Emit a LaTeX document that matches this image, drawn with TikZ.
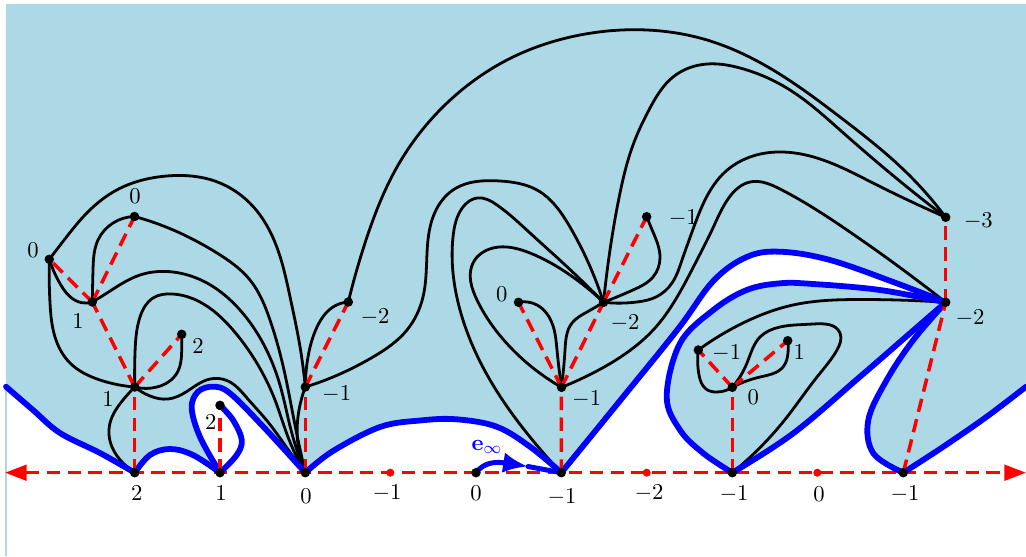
\documentclass[tikz,border=0pt]{standalone}
\usetikzlibrary{arrows.meta,hobby}
\definecolor{lb}{RGB}{173,216,230}
\begin{document}
\begin{tikzpicture}[x=0.017cm,y=-0.017cm,
  font=\fontsize{11pt}{13pt}\selectfont,
  dot/.style={circle,fill=black,inner sep=0pt,minimum size=4.6pt},
  rdot/.style={circle,fill=red,inner sep=0pt,minimum size=3.9pt},
  lbl/.style={inner sep=0pt,anchor=center},
  blk/.style={line width=1.35pt,line cap=round,line join=round,use Hobby shortcut},
  bl/.style={blue,line width=2.8pt,line cap=round,line join=round},
  rd/.style={red,line width=1.7pt,dash pattern=on 6.5pt off 3.6pt},
  sm/.style={smooth,tension=0.6}]
\useasboundingbox (0,0) rectangle (1026,556);
% positions
\coordinate (ax2) at (134.7,472.7);
\coordinate (ax1) at (220,472.7);
\coordinate (ax0) at (305.3,472.7);
\coordinate (rA) at (390.3,472.7);
\coordinate (ax0b) at (476,472.7);
\coordinate (axm1b) at (561.3,472.7);
\coordinate (rB) at (646.7,472.7);
\coordinate (axm1c) at (732.3,472.7);
\coordinate (rC) at (817.3,472.7);
\coordinate (axm1d) at (903.3,472.7);
\coordinate (Lend) at (5,472.7);
\coordinate (Rend) at (1026,472.7);
\coordinate (etip) at (528,466.5);
\coordinate (A0) at (49.3,259.3);
\coordinate (B0) at (134.5,216.5);
\coordinate (C1) at (92.3,302);
\coordinate (D2) at (181.7,334.3);
\coordinate (E1) at (134.7,387);
\coordinate (F2) at (220,405.3);
\coordinate (G) at (305.3,387);
\coordinate (H) at (348.3,302);
\coordinate (I0) at (518.5,302.3);
\coordinate (J) at (561.5,387.3);
\coordinate (K) at (603.5,302.3);
\coordinate (L) at (646.7,216.7);
\coordinate (M) at (945.7,217.3);
\coordinate (N) at (945.7,302.3);
\coordinate (O) at (698.3,350);
\coordinate (P) at (732.3,387.3);
\coordinate (Q) at (787.7,340.7);
% background
\fill[white] (0,0) rectangle (1026,556);
\fill[lb] (6,4) rectangle (1026,556);
\fill[white] (6,386.7)
 -- plot[sm] coordinates {(6,386.7) (33,410) (60,433) (100,453) (ax2)}
 -- plot[sm] coordinates {(ax2) (150,455) (170,449) (193,455) (ax1)}
 -- plot[sm] coordinates {(ax1) (200,437) (191.7,408) (198,391.7) (213.3,386.7) (230,393.3) (263.3,426.7) (ax0)}
 -- plot[sm] coordinates {(ax0) (333,451) (380,427) (420,420.5) (456.7,419.3) (496.7,426.7) (530,446.7) (axm1b)}
 -- plot[sm] coordinates {(axm1b) (620,400.7) (678,329) (713.3,281) (746.7,257) (780,251.7) (830,260) (896.7,283.3) (N)}
 -- plot[sm] coordinates {(N) (880,290) (813.3,284) (780,283.3) (746.7,290) (713.3,310) (680,343.3) (666.7,396.7) (680,430) (703.3,453.3) (axm1c)}
 -- plot[sm] coordinates {(axm1c) (793.3,433.3) (860,376.7) (910,333.3) (N)}
 -- plot[sm] coordinates {(N) (913.3,340) (886.7,380) (868.3,420) (873.3,453.3) (axm1d)}
 -- plot[sm] coordinates {(axm1d) (943.3,446.7) (986.7,416.7) (1026,386.7)}
 -- (1026,556) -- (6,556) -- cycle;
\draw[lb,line width=0.6pt] (6,386.7) -- (6,556);
% axis
\draw[rd,{Triangle[length=10.5pt,width=7.5pt]}-{Triangle[length=10.5pt,width=7.5pt]}] (Lend) -- (Rend);
% black curves
\draw[blk] (A0) .. (58,280) .. (70,296.7) .. (81.7,302.7) .. (C1);
\draw[blk] (A0) .. (50,303) .. (55,337) .. (70,363) .. (100,380) .. (E1);
\draw[blk] (A0) .. (66.7,236.7) .. (83.3,216.7) .. (116.7,190) .. (166.7,176) .. (216.7,181.7) .. (253.3,206.7) .. (276.7,246.7) .. (290,296.7) .. (300,346.7) .. (G);
\draw[blk] (C1) .. (93,270) .. (98,240) .. (113,223) .. (B0);
\draw[blk] (B0) .. (180,233) .. (217,253) .. (250,280) .. (270,320) .. (284,370) .. (294,420) .. (ax0);
\draw[blk] (C1) .. (107,293) .. (140,275) .. (173,272) .. (207,283) .. (240,310) .. (264,345) .. (280,385) .. (291,430) .. (ax0);
\draw[blk] (E1) .. (135,353) .. (140,317) .. (153,298) .. (173,294) .. (200,302) .. (233,330) .. (258,365) .. (275,400) .. (288,437) .. (ax0);
\draw[blk] (E1) .. (150,396) .. (168,399) .. (186,392) .. (210,379) .. (228,381) .. (247,398) .. (268,422) .. (287,448) .. (ax0);
\draw[blk] (E1) .. (157,387) .. (177,373) .. (181.7,350) .. (D2);
\draw[blk] (E1) .. (123,400) .. (110,423) .. (112,447) .. (123,463) .. (ax2);
\draw[blk] (G) .. (299,410) .. (297.5,440) .. (ax0);
\draw[blk] (G) .. (308,357) .. (317,327) .. (333,307) .. (H);
\draw[blk] (G) .. (333,377) .. (373,357) .. (407,330) .. (423,297) .. (427,253) .. (433,217) .. (453,190) .. (500,181) .. (537,190) .. (570,227) .. (K);
\draw[blk] (axm1b) .. (530,437) .. (490,380) .. (460,310) .. (453,237) .. (463,207) .. (477,198) .. (497,205) .. (530,233) .. (563,263) .. (K);
\draw[blk] (J) .. (513,350) .. (477,300) .. (473,263) .. (493,248) .. (530,253) .. (570,275) .. (K);
\draw[blk] (I0) .. (537,305) .. (552,323) .. (557,350) .. (J);
\draw[blk] (J) .. (565,350) .. (572,323) .. (587,312) .. (K);
\draw[blk] (K) .. (633,290) .. (653,277) .. (660,258) .. (653,232) .. (L);
\draw[blk] (K) .. (637,302) .. (656,297) .. (672,283) .. (682,260) .. (692,232) .. (706,198) .. (725,172) .. (750,157) .. (777,152) .. (823,160) .. (873,183) .. (M);
\draw[blk] (J) .. (593,373) .. (625,354) .. (655,328) .. (680,292) .. (698,258) .. (712,230) .. (728,199) .. (750,182) .. (780,189) .. (847,230) .. (N);
\draw[blk] (K) .. (610,250) .. (620,193) .. (633,145) .. (650,108) .. (673,77) .. (707,64) .. (740,68) .. (790,90) .. (840,130) .. (907,187) .. (M);
\draw[blk] (H) .. (366,240) .. (397,167) .. (447,103) .. (513,57) .. (580,35) .. (647,30) .. (707,40) .. (773,70) .. (840,117) .. (907,173) .. (M);
\draw[blk] (O) .. (743,323) .. (793,305) .. (860,299.5) .. (N);
\draw[blk] (O) .. (699,375) .. (706,389) .. (717,392) .. (P);
\draw[blk] (P) .. (747,363) .. (760,337) .. (780,327) .. (813,324) .. (840,333) .. (837,350) .. (817,377) .. (787,417) .. (axm1c);
\draw[blk] (P) .. (760,377) .. (783,367) .. (788,353) .. (Q);
% blue curves
\draw[bl] plot[sm] coordinates {(6,386.7) (33,410) (60,433) (100,453) (ax2)};
\draw[bl] plot[sm] coordinates {(ax2) (150,455) (170,449) (193,455) (ax1)};
\draw[bl] plot[sm] coordinates {(ax1) (200,437) (191.7,408) (198,391.7) (213.3,386.7) (230,393.3) (263.3,426.7) (ax0)};
\draw[bl] plot[sm] coordinates {(F2) (233,420) (241.7,440) (236.7,455) (ax1)};
\draw[bl] plot[sm] coordinates {(ax0) (333,451) (380,427) (420,420.5) (456.7,419.3) (496.7,426.7) (530,446.7) (axm1b)};
\draw[bl] plot[sm] coordinates {(axm1b) (620,400.7) (678,329) (713.3,281) (746.7,257) (780,251.7) (830,260) (896.7,283.3) (N)};
\draw[bl] plot[sm] coordinates {(N) (880,290) (813.3,284) (780,283.3) (746.7,290) (713.3,310) (680,343.3) (666.7,396.7) (680,430) (703.3,453.3) (axm1c)};
\draw[bl] plot[sm] coordinates {(axm1c) (793.3,433.3) (860,376.7) (910,333.3) (N)};
\draw[bl] plot[sm] coordinates {(N) (913.3,340) (886.7,380) (868.3,420) (873.3,453.3) (axm1d)};
\draw[bl] plot[sm] coordinates {(axm1d) (943.3,446.7) (986.7,416.7) (1026,386.7)};
% e infinity arrow
\draw[blue,line width=2.4pt,-{Latex[length=12pt,width=10pt]}]
  (ax0b) .. controls (484,462) and (496,461.5) .. (etip);
\draw[blue,line width=2.4pt,line cap=round] (etip) -- (axm1b);
% red dashed tree
\draw[rd] (ax2) -- (E1);
\draw[rd] (E1) -- (C1);
\draw[rd] (C1) -- (A0);
\draw[rd] (C1) -- (B0);
\draw[rd] (E1) -- (D2);
\draw[rd] (ax1) -- (F2);
\draw[rd] (ax0) -- (G);
\draw[rd] (G) -- (H);
\draw[rd] (axm1b) -- (J);
\draw[rd] (J) -- (I0);
\draw[rd] (J) -- (K);
\draw[rd] (K) -- (L);
\draw[rd] (axm1c) -- (P);
\draw[rd] (P) -- (O);
\draw[rd] (P) -- (Q);
\draw[rd] (axm1d) -- (N);
\draw[rd] (N) -- (M);
% dots
\foreach \n in {ax2,ax1,ax0,ax0b,axm1b,axm1c,axm1d,A0,B0,C1,D2,E1,F2,G,H,I0,J,K,L,M,N,O,P,Q}
  \node[dot] (d\n) at (\n) {};
\foreach \n in {rA,rB,rC}
  \node[rdot] (d\n) at (\n) {};
% labels
\node[lbl] (lA0) at (33,250) {$0$};
\node[lbl] (lB0) at (135,196) {$0$};
\node[lbl] (lC1) at (78,321) {$1$};
\node[lbl] (lD2) at (198,346) {$2$};
\node[lbl] (lE1) at (108,399) {$1$};
\node[lbl] (lF2) at (210.7,421.7) {$2$};
\node[lbl] (lG) at (336.7,394) {$-1$};
\node[lbl] (lH) at (375,316.7) {$-2$};
\node[lbl] (lI0) at (501.7,294) {$0$};
\node[lbl] (lJ) at (586.7,399) {$-1$};
\node[lbl] (lK) at (625,322.7) {$-2$};
\node[lbl] (lL) at (683.3,218.3) {$-1$};
\node[lbl] (lM) at (978.3,220.7) {$-3$};
\node[lbl] (lN) at (970,318.3) {$-2$};
\node[lbl] (lO) at (726.7,353.3) {$-1$};
\node[lbl] (lP) at (753.3,396.7) {$0$};
\node[lbl] (lQ) at (799.3,352.3) {$1$};
\node[lbl] (la1) at (136.7,493) {$2$};
\node[lbl] (la2) at (221,492.7) {$1$};
\node[lbl] (la3) at (306,496) {$0$};
\node[lbl] (la4) at (387,493.3) {$-1$};
\node[lbl] (la5) at (476,493) {$0$};
\node[lbl] (la6) at (562,497) {$-1$};
\node[lbl] (la7) at (649,493) {$-2$};
\node[lbl] (la8) at (734,494) {$-1$};
\node[lbl] (la9) at (819,494) {$0$};
\node[lbl] (la10) at (905,494) {$-1$};
\node[lbl,text=blue] (leinf) at (487,447) {$\mathbf{e}_\infty$};
\end{tikzpicture}
\end{document}
